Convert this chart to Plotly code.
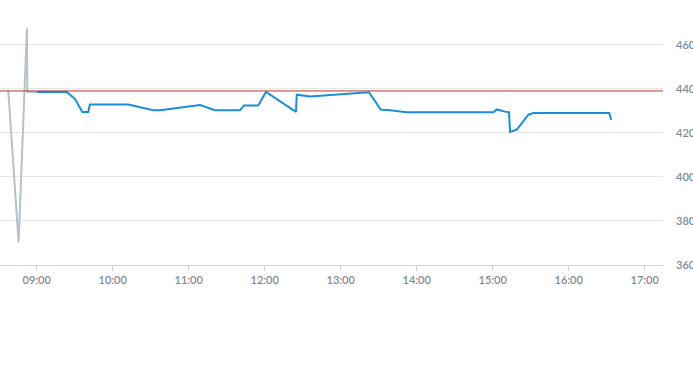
import plotly.graph_objects as go

DAY = "2024-01-02 "

# Pre-market (grey) series
pre_times = ["08:37:36", "08:45:42", "08:52:18", "08:52:36", "09:00:00"]
pre_values = [439.2, 370.3, 467.6, 438.6, 438.6]

# Intraday (blue) series
day_times = ["09:00:00", "09:23:42", "09:30:12", "09:36:00", "09:40:42", "09:42:00",
             "10:12:18", "10:32:00", "10:37:18", "11:08:54", "11:20:42", "11:40:30",
             "11:43:36", "11:54:54", "12:01:00", "12:24:42", "12:25:18", "12:35:48",
             "13:22:18", "13:31:36", "13:39:00", "13:52:06", "15:00:30", "15:03:12",
             "15:09:42", "15:12:54", "15:13:42", "15:19:00", "15:28:12", "15:32:06",
             "16:32:00", "16:33:36"]
day_values = [438.6, 438.6, 435.5, 429.5, 429.5, 432.9,
              432.9, 430.3, 430.3, 432.7, 430.3, 430.3,
              432.5, 432.5, 438.6, 429.6, 437.4, 436.6,
              438.5, 430.6, 430.3, 429.4, 429.4, 430.7,
              429.7, 429.4, 420.5, 421.5, 428.3, 429.1,
              429.1, 426.0]

reference_level = 439.1

x_start, x_end = "08:31:02", "17:14:27"
y_min, y_max = 360, 467.7
y_ticks = [360, 380, 400, 420, 440, 460]
x_ticks = ["09:00", "10:00", "11:00", "12:00", "13:00", "14:00", "15:00", "16:00", "17:00"]

fig = go.Figure()
fig.add_trace(go.Scatter(
    x=[DAY + t for t in pre_times], y=pre_values, mode="lines",
    line=dict(color="#b4c2cc", width=2), hoverinfo="skip", showlegend=False))
fig.add_trace(go.Scatter(
    x=[DAY + t for t in day_times], y=day_values, mode="lines",
    line=dict(color="#1a8ed8", width=2), showlegend=False))

fig.add_shape(type="line", xref="paper", x0=0, x1=1, yref="y",
              y0=reference_level, y1=reference_level,
              line=dict(color="#b8322a", width=1), layer="above")

axis_font = dict(family="Lato, Open Sans, sans-serif", size=11, color="#808b9a", weight=600)

fig.update_layout(
    width=693, height=365,
    margin=dict(l=0, r=30, t=28, b=100, autoexpand=False),
    paper_bgcolor="white", plot_bgcolor="white",
    xaxis=dict(
        type="date", automargin=False,
        range=[DAY + x_start, DAY + x_end],
        tickvals=[DAY + t for t in x_ticks],
        ticktext=x_ticks,
        showgrid=False, zeroline=False,
        showline=True, linecolor="#ccd6eb", linewidth=1,
        ticks="outside", ticklen=5, tickcolor="#ccd6eb",
        tickfont=axis_font,
    ),
    yaxis=dict(
        side="right", automargin=False,
        range=[y_min, y_max],
        tickvals=y_ticks,
        showgrid=True, gridcolor="#e6e6e6", gridwidth=1,
        zeroline=False, showline=False,
        ticks="", ticklabelstandoff=12,
        tickfont=axis_font,
    ),
)

fig.write_html("out.html", config={"displayModeBar": False},
               post_script="document.body.style.margin='0';document.body.style.overflow='hidden';")
